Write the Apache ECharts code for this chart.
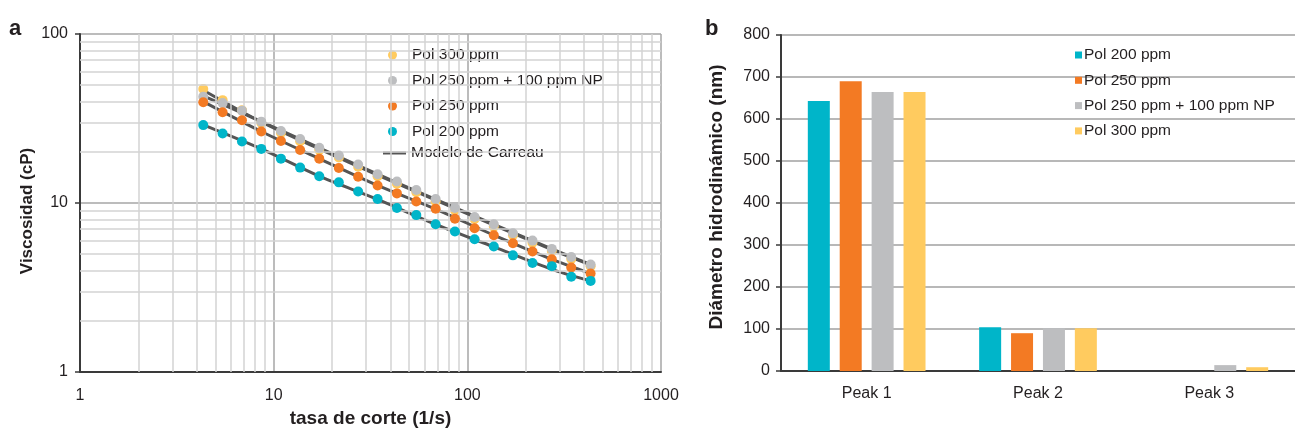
<!DOCTYPE html>
<html>
<head>
<meta charset="utf-8">
<script src="https://cdn.jsdelivr.net/npm/echarts@6/dist/echarts.min.js"></script>
<style>
  html, body { margin: 0; padding: 0; background: #fff; }
  #chart { width: 1295px; height: 433px; }
</style>
</head>
<body>
<div id="chart"></div>
<script>
// ---- Panel a: viscosity vs shear rate ----
const shearRate = [4.33, 5.45, 6.86, 8.63, 10.9, 13.7, 17.2, 21.7, 27.3, 34.4, 43.3,
                   54.5, 68.6, 86.3, 109, 137, 172, 217, 273, 344, 433];
const viscPol300 = [47.3, 40.6, 35.4, 29.8, 26.0, 23.2, 20.6, 18.6, 16.4, 14.4, 13.0,
                    11.6, 10.2, 9.05, 8.05, 7.25, 6.45, 5.82, 5.2, 4.66, 4.22];
const viscPol250NP = [42.6, 39.0, 35.2, 30.3, 26.7, 23.9, 21.2, 19.1, 16.9, 14.8, 13.4,
                      11.95, 10.55, 9.35, 8.27, 7.48, 6.63, 5.99, 5.35, 4.79, 4.32];
const viscPol250 = [39.5, 34.4, 30.9, 26.5, 23.3, 20.6, 18.3, 16.1, 14.3, 12.7, 11.4,
                    10.2, 9.24, 8.07, 7.09, 6.45, 5.78, 5.17, 4.64, 4.15, 3.83];
const viscPol200 = [28.9, 25.8, 23.1, 20.9, 18.3, 16.2, 14.4, 13.25, 11.7, 10.55, 9.35,
                    8.48, 7.48, 6.78, 6.1, 5.53, 4.90, 4.42, 4.23, 3.66, 3.46];

// Carreau model curves
const modelRate = [4.33, 8.63, 17.2, 34.4, 68.6, 137, 273, 433];
const modelPol300 = [46.5, 30.2, 20.9, 14.6, 10.4, 7.4, 5.3, 4.3];
const modelPol250NP = [43.0, 30.3, 21.2, 14.8, 10.5, 7.48, 5.35, 4.33];
const modelPol250 = [39.8, 26.5, 18.3, 12.7, 9.2, 6.45, 4.64, 3.83];
const modelPol200 = [29.0, 20.9, 14.4, 10.5, 7.48, 5.5, 4.05, 3.46];

const xTicksMinor = [2, 3, 4, 5, 6, 7, 8, 9, 20, 30, 40, 50, 60, 70, 80, 90,
                     200, 300, 400, 500, 600, 700, 800, 900];
const yTicksMinor = [2, 3, 4, 5, 6, 7, 8, 9, 20, 30, 40, 50, 60, 70, 80, 90];

// ---- Panel b: hydrodynamic diameter ----
const peaks = ['Peak 1', 'Peak 2', 'Peak 3'];
const diamPol200 = [643, 104, 0];
const diamPol250 = [690, 90, 0];
const diamPol250NP = [664, 102, 14];
const diamPol300 = [664, 102, 9];

const NAME_300 = 'Pol 300 ppm';
const NAME_250NP = 'Pol 250 ppm + 100 ppm NP';
const NAME_250 = 'Pol 250 ppm';
const NAME_200 = 'Pol 200 ppm';
const NAME_MODEL = 'Modelo de Carreau';

const C_CYAN = '#00B5C9';
const C_ORANGE = '#F37A23';
const C_GRAY = '#BDBEC0';
const C_YELLOW = '#FFCB5F';
const C_MODEL = '#555555';
const TXT = '#231F20';
const FONT = '"Liberation Sans", Arial, sans-serif';

const pairs = (xs, ys) => xs.map((x, i) => [x, ys[i]]);

function scatter(name, ys, color, z) {
  return {
    name, type: 'scatter', xAxisIndex: 0, yAxisIndex: 0,
    data: pairs(shearRate, ys), symbol: 'circle', symbolSize: 10,
    itemStyle: { color, opacity: 1 }, z
  };
}
function model(ys) {
  return {
    name: NAME_MODEL, type: 'line', xAxisIndex: 0, yAxisIndex: 0,
    data: pairs(modelRate, ys), smooth: 0.3, showSymbol: false, symbol: 'none',
    lineStyle: { color: C_MODEL, width: 3 }, itemStyle: { color: C_MODEL }, z: 3
  };
}
function bar(name, values, color) {
  return {
    name, type: 'bar', xAxisIndex: 1, yAxisIndex: 1, data: values,
    barWidth: 22, barGap: '45%', itemStyle: { color }
  };
}

const minorLine = { color: '#d3d3d3', width: 1.5, type: 'solid' };
const legendText = { fontSize: 15.5, color: TXT, fontFamily: FONT, lineHeight: 16 };

const option = {
  animation: false,
  textStyle: { fontFamily: FONT, color: TXT },
  graphic: [
    { type: 'text', left: 9, top: 18, style: { text: 'a', font: 'bold 22px ' + FONT, fill: TXT } },
    { type: 'text', left: 705, top: 18, style: { text: 'b', font: 'bold 22px ' + FONT, fill: TXT } }
  ],
  grid: [
    { left: 80, top: 34, width: 581, height: 343 },
    { left: 781, top: 35, width: 514, height: 336 }
  ],
  legend: [
    {
      data: [NAME_300, NAME_250NP, NAME_250, NAME_200].map(n => ({ name: n, icon: 'circle' })),
      orient: 'vertical', left: 383, top: 42, padding: 5,
      itemWidth: 29, itemHeight: 9, itemGap: 9.5,
      textStyle: legendText, selectedMode: false
    },
    {
      data: [{ name: NAME_MODEL, icon: 'rect' }],
      orient: 'vertical', left: 378, top: 140, padding: 5,
      itemWidth: 23, itemHeight: 3,
      itemStyle: { color: C_MODEL },
      textStyle: legendText, selectedMode: false
    },
    {
      data: [NAME_200, NAME_250, NAME_250NP, NAME_300].map(n => ({ name: n, icon: 'rect' })),
      orient: 'vertical', left: 1070, top: 42, padding: 5,
      itemWidth: 7, itemHeight: 7, itemGap: 9.3,
      textStyle: Object.assign({ padding: [0, 0, 0, -3] }, legendText),
      selectedMode: false
    }
  ],
  xAxis: [
    {
      type: 'log', logBase: 10, min: 1, max: 1000, gridIndex: 0,
      name: 'tasa de corte (1/s)', nameLocation: 'middle', nameGap: 37,
      nameTextStyle: { fontSize: 19, fontWeight: 'bold', color: TXT, fontFamily: FONT },
      axisLine: { lineStyle: { color: '#3a3a3a', width: 2 } },
      axisTick: { show: false },
      axisLabel: { fontSize: 16, color: TXT, margin: 16, formatter: v => String(v) },
      splitLine: { show: true, lineStyle: { color: '#a6a6a6', width: 1.5 } }
    },
    {
      type: 'category', data: peaks, gridIndex: 1,
      axisLine: { lineStyle: { color: '#3a3a3a', width: 2 } },
      axisTick: { show: false },
      axisLabel: { fontSize: 16, color: TXT, margin: 15 }
    }
  ],
  yAxis: [
    {
      type: 'log', logBase: 10, min: 1, max: 100, gridIndex: 0,
      name: 'Viscosidad (cP)', nameLocation: 'middle', nameGap: 44, nameRotate: 90,
      nameTextStyle: { fontSize: 17, fontWeight: 'bold', color: TXT, fontFamily: FONT, padding: [0, 16, 0, 0] },
      axisLine: { show: true, lineStyle: { color: '#3a3a3a', width: 2 } },
      axisTick: { show: true, length: 5, lineStyle: { color: '#3a3a3a', width: 1.5 } },
      axisLabel: { fontSize: 16, color: TXT, margin: 12, formatter: v => String(v) },
      splitLine: { show: true, lineStyle: { color: '#a6a6a6', width: 1.5 } }
    },
    {
      type: 'value', min: 0, max: 800, interval: 100, gridIndex: 1,
      name: 'Diámetro hidrodinámico (nm)', nameLocation: 'middle', nameGap: 55, nameRotate: 90,
      nameTextStyle: { fontSize: 19, fontWeight: 'bold', color: TXT, fontFamily: FONT, padding: [0, 0, 0, 12] },
      axisLine: { show: true, lineStyle: { color: '#3a3a3a', width: 2 } },
      axisTick: { show: true, length: 5, lineStyle: { color: '#3a3a3a', width: 1.5 } },
      axisLabel: { fontSize: 16, color: TXT, margin: 11 },
      splitLine: { show: true, lineStyle: { color: '#a0a0a0', width: 1.5 } }
    }
  ],
  series: [
    {
      // minor log grid lines for panel a
      name: 'minor-grid', type: 'line', xAxisIndex: 0, yAxisIndex: 0,
      data: [[1, 1]], symbol: 'none', lineStyle: { opacity: 0 }, silent: true, z: 1,
      markLine: {
        silent: true, symbol: ['none', 'none'], label: { show: false },
        lineStyle: minorLine, animation: false,
        data: xTicksMinor.map(v => ({ xAxis: v })).concat(yTicksMinor.map(v => ({ yAxis: v })))
      }
    },
    model(modelPol300),
    model(modelPol250NP),
    model(modelPol250),
    model(modelPol200),
    scatter(NAME_300, viscPol300, C_YELLOW, 4),
    scatter(NAME_250NP, viscPol250NP, C_GRAY, 5),
    scatter(NAME_250, viscPol250, C_ORANGE, 6),
    scatter(NAME_200, viscPol200, C_CYAN, 7),
    bar(NAME_200, diamPol200, C_CYAN),
    bar(NAME_250, diamPol250, C_ORANGE),
    bar(NAME_250NP, diamPol250NP, C_GRAY),
    bar(NAME_300, diamPol300, C_YELLOW)
  ]
};

const chart = echarts.init(document.getElementById('chart'), null, { renderer: 'canvas' });
chart.setOption(option);
</script>
</body>
</html>
